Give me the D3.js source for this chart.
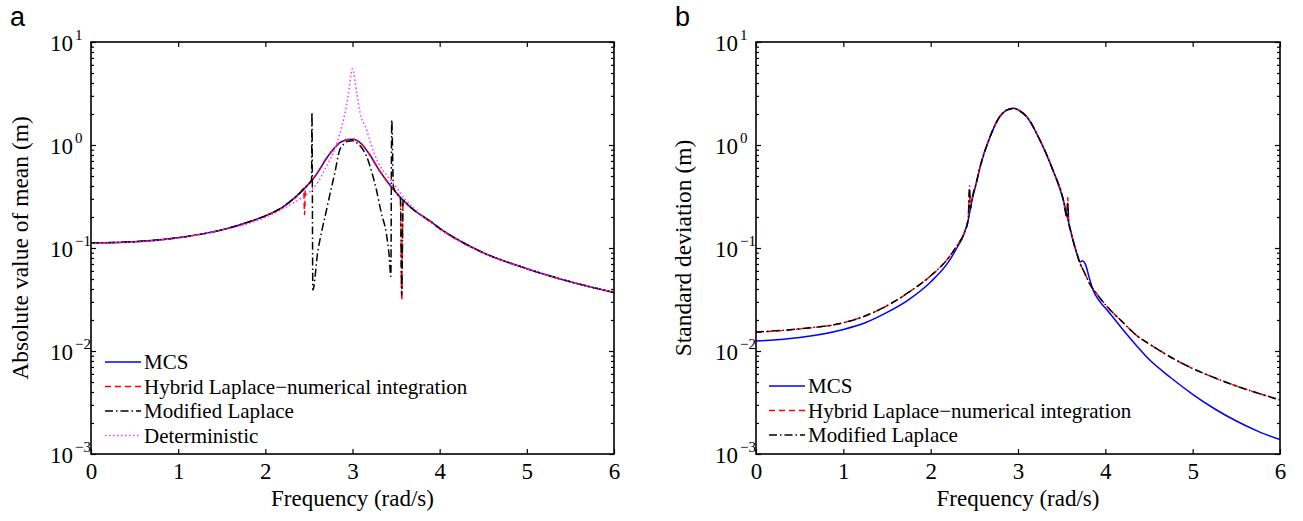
<!DOCTYPE html>
<html>
<head>
<meta charset="UTF-8">
<title>Frequency response</title>
<script src="https://d3js.org/d3.v7.min.js"></script>
<style>
  body { margin: 0; background: #fff; }
  .axis path { display: none; }
  .axis line { stroke: #000; stroke-width: 1.2px; }
</style>
</head>
<body>
<svg width="1303" height="521"></svg>
<script>
// tick labels / categories
const freqTicks = [0, 1, 2, 3, 4, 5, 6];
const decades = [1e-3, 1e-2, 1e-1, 1, 10];
const seriesNames = ["MCS", "Hybrid Laplace\u2212numerical integration", "Modified Laplace", "Deterministic"];

// panel a : absolute value of mean  [frequency, value]
const meanMCS = [[0,0.112],[0.5,0.115],[1,0.126],[1.5,0.15],[1.8,0.178],[2,0.205],[2.2,0.25],[2.4,0.345],[2.5,0.42],[2.6,0.54],[2.7,0.74],[2.8,0.95],[2.85,1.05],[2.9,1.1],[2.95,1.13],[3,1.14],[3.05,1.11],[3.1,1.03],[3.2,0.8],[3.3,0.58],[3.4,0.44],[3.5,0.345],[3.6,0.28],[3.7,0.235],[3.8,0.205],[3.9,0.18],[4,0.155],[4.25,0.115],[4.5,0.09],[5,0.063],[5.5,0.047],[6,0.037]];
const meanHybrid = [[0,0.112],[0.5,0.115],[1,0.126],[1.5,0.15],[1.8,0.178],[2,0.205],[2.2,0.25],[2.4,0.345],[2.44,0.38],[2.45,0.21],[2.46,0.39],[2.5,0.42],[2.6,0.54],[2.7,0.74],[2.8,0.95],[2.85,1.05],[2.9,1.1],[2.95,1.13],[3,1.14],[3.05,1.11],[3.1,1.03],[3.2,0.8],[3.3,0.58],[3.4,0.44],[3.5,0.345],[3.55,0.3],[3.565,0.031],[3.58,0.29],[3.6,0.28],[3.7,0.235],[3.8,0.205],[3.9,0.18],[4,0.155],[4.25,0.115],[4.5,0.09],[5,0.063],[5.5,0.047],[6,0.037]];
const meanModified = [[0,0.112],[0.5,0.115],[1,0.126],[1.5,0.15],[1.8,0.178],[2,0.205],[2.2,0.25],[2.4,0.345],[2.5,0.42],[2.53,0.46],[2.535,2.08],[2.545,0.039],[2.6,0.09],[2.65,0.15],[2.7,0.23],[2.74,0.33],[2.8,0.55],[2.85,0.88],[2.9,1.02],[2.95,1.09],[3,1.1],[3.05,1.05],[3.1,0.95],[3.16,0.78],[3.22,0.55],[3.27,0.38],[3.33,0.22],[3.39,0.135],[3.42,0.085],[3.44,0.053],[3.45,1.75],[3.47,0.39],[3.5,0.345],[3.55,0.3],[3.565,0.035],[3.58,0.29],[3.6,0.28],[3.7,0.235],[3.8,0.205],[3.9,0.18],[4,0.155],[4.25,0.115],[4.5,0.09],[5,0.063],[5.5,0.047],[6,0.037]];
const meanDeterministic = [[0,0.111],[0.5,0.114],[1,0.125],[1.5,0.148],[1.8,0.172],[2,0.198],[2.2,0.24],[2.4,0.3],[2.5,0.345],[2.6,0.43],[2.7,0.62],[2.8,0.92],[2.85,1.25],[2.9,1.8],[2.95,3.0],[3,5.5],[3.05,3.1],[3.1,1.85],[3.15,1.5],[3.2,1.1],[3.3,0.66],[3.4,0.5],[3.5,0.39],[3.6,0.3],[3.7,0.245],[3.8,0.205],[4,0.152],[4.5,0.089],[5,0.063],[5.5,0.047],[6,0.037]];

// panel b : standard deviation  [frequency, value]
const stdMCS = [[0,0.0125],[0.5,0.0135],[1,0.0162],[1.25,0.0188],[1.5,0.0237],[1.75,0.0316],[2,0.0468],[2.2,0.0724],[2.3,0.1],[2.38,0.135],[2.43,0.187],[2.47,0.28],[2.52,0.42],[2.57,0.63],[2.68,1.2],[2.79,1.88],[2.87,2.18],[2.95,2.28],[3.02,2.15],[3.1,1.88],[3.25,1.12],[3.4,0.57],[3.52,0.29],[3.6,0.15],[3.68,0.085],[3.71,0.073],[3.74,0.075],[3.77,0.07],[3.82,0.05],[3.86,0.039],[3.94,0.03],[4.02,0.025],[4.2,0.0162],[4.36,0.0112],[4.5,0.0083],[4.75,0.0055],[5,0.0038],[5.25,0.00275],[5.5,0.00209],[5.75,0.00166],[6,0.00138]];
const stdHybrid = [[0,0.0152],[0.5,0.0164],[1,0.0188],[1.25,0.0219],[1.5,0.0275],[1.75,0.0372],[2,0.0537],[2.2,0.0794],[2.3,0.105],[2.38,0.138],[2.43,0.19],[2.445,0.36],[2.455,0.24],[2.47,0.29],[2.52,0.42],[2.57,0.63],[2.68,1.2],[2.79,1.88],[2.87,2.18],[2.95,2.26],[3.02,2.14],[3.1,1.88],[3.25,1.12],[3.4,0.57],[3.52,0.29],[3.56,0.2],[3.57,0.31],[3.58,0.18],[3.6,0.15],[3.68,0.085],[3.71,0.071],[3.76,0.058],[3.82,0.045],[3.9,0.036],[4.02,0.027],[4.2,0.019],[4.36,0.0141],[4.5,0.01175],[4.75,0.0087],[5,0.00676],[5.25,0.0055],[5.5,0.00457],[5.75,0.00389],[6,0.00334]];
const stdModified = [[0,0.0153],[0.5,0.0164],[1,0.0188],[1.25,0.0219],[1.5,0.0275],[1.75,0.0372],[2,0.0537],[2.2,0.0794],[2.3,0.105],[2.38,0.138],[2.43,0.19],[2.445,0.4],[2.455,0.24],[2.47,0.29],[2.52,0.42],[2.57,0.63],[2.68,1.2],[2.79,1.88],[2.87,2.18],[2.95,2.26],[3.02,2.14],[3.1,1.88],[3.25,1.12],[3.4,0.57],[3.52,0.29],[3.56,0.2],[3.57,0.28],[3.58,0.18],[3.6,0.15],[3.68,0.085],[3.71,0.071],[3.76,0.058],[3.82,0.045],[3.9,0.036],[4.02,0.027],[4.2,0.019],[4.36,0.0141],[4.5,0.01175],[4.75,0.0087],[5,0.00676],[5.25,0.0055],[5.5,0.00457],[5.75,0.00389],[6,0.00334]];

const styles = [
  { color: "#0000ff", dash: null },
  { color: "#ff0000", dash: "6,4" },
  { color: "#000000", dash: "8,3,1.5,3" },
  { color: "#ff33ff", dash: "1.5,2.5" }
];

const serif = "'Liberation Serif', 'Times New Roman', Times, serif";

const panels = [
  { letter: "a", left: 91, right: 614, ylabel: "Absolute value of mean (m)", ylabelX: 28,
    series: [meanMCS, meanHybrid, meanModified, meanDeterministic],
    legendX: 105, legendY: 362 },
  { letter: "b", left: 756, right: 1280, ylabel: "Standard deviation (m)", ylabelX: 691,
    series: [stdMCS, stdHybrid, stdModified],
    legendX: 769, legendY: 386 }
];

const plotTop = 42, plotBottom = 454;
const svg = d3.select("svg");

const minors = [];
for (let e = -3; e < 1; e++) {
  for (let k = 2; k <= 9; k++) minors.push(k * Math.pow(10, e));
}

panels.forEach((p, pi) => {
  const x = d3.scaleLinear().domain([0, 6]).range([p.left, p.right]);
  const y = d3.scaleLog().domain([1e-3, 10]).range([plotBottom, plotTop]);

  const g = svg.append("g");

  g.append("clipPath").attr("id", "clip" + pi)
    .append("rect")
    .attr("x", p.left).attr("y", plotTop)
    .attr("width", p.right - p.left).attr("height", plotBottom - plotTop);

  // curves
  const line = d3.line()
    .x(d => x(d[0]))
    .y(d => y(d[1]))
    .curve(d3.curveMonotoneX);

  p.series.forEach((s, i) => {
    g.append("path")
      .datum(s)
      .attr("clip-path", "url(#clip" + pi + ")")
      .attr("fill", "none")
      .attr("stroke", styles[i].color)
      .attr("stroke-width", 1.5)
      .attr("stroke-dasharray", styles[i].dash)
      .attr("d", line);
  });

  // x axes (inward ticks)
  const xb = g.append("g").attr("class", "axis")
    .attr("transform", `translate(0,${plotBottom})`)
    .call(d3.axisBottom(x).tickValues(freqTicks).tickSize(-5).tickPadding(9).tickFormat(d3.format("d")));
  xb.selectAll("text")
    .attr("font-family", serif)
    .attr("font-size", 23)
    .attr("fill", "#000");
  g.append("g").attr("class", "axis")
    .attr("transform", `translate(0,${plotTop})`)
    .call(d3.axisTop(x).tickValues(freqTicks).tickSize(-5).tickFormat(""));

  // y axes
  const yl = g.append("g").attr("class", "axis")
    .attr("transform", `translate(${p.left},0)`)
    .call(d3.axisLeft(y).tickValues(decades).tickSize(-5).tickFormat(""));
  g.append("g").attr("class", "axis")
    .attr("transform", `translate(${p.left},0)`)
    .call(d3.axisLeft(y).tickValues(minors).tickSize(-3).tickFormat(""));
  g.append("g").attr("class", "axis")
    .attr("transform", `translate(${p.right},0)`)
    .call(d3.axisRight(y).tickValues(decades).tickSize(-5).tickFormat(""));
  g.append("g").attr("class", "axis")
    .attr("transform", `translate(${p.right},0)`)
    .call(d3.axisRight(y).tickValues(minors).tickSize(-3).tickFormat(""));

  yl.selectAll(".tick").each(function(d) {
    const t = d3.select(this);
    const ex = Math.round(Math.log10(d));
    t.append("text")
      .attr("x", -18).attr("y", 8)
      .attr("text-anchor", "end")
      .attr("font-family", serif)
      .attr("font-size", 23)
      .attr("fill", "#000")
      .text("10");
    t.append("text")
      .attr("x", -16).attr("y", -3)
      .attr("text-anchor", "start")
      .attr("font-family", serif)
      .attr("font-size", 15)
      .attr("fill", "#000")
      .text(ex < 0 ? "\u2212" + (-ex) : ex);
  });

  // frame
  g.append("rect")
    .attr("x", p.left).attr("y", plotTop)
    .attr("width", p.right - p.left).attr("height", plotBottom - plotTop)
    .attr("fill", "none").attr("stroke", "#000").attr("stroke-width", 1.6);

  // axis labels
  g.append("text")
    .attr("x", (p.left + p.right) / 2).attr("y", 506)
    .attr("text-anchor", "middle")
    .attr("font-family", serif)
    .attr("font-size", 23)
    .text("Frequency (rad/s)");
  g.append("text")
    .attr("transform", `translate(${p.ylabelX},${(plotTop + plotBottom) / 2}) rotate(-90)`)
    .attr("text-anchor", "middle")
    .attr("font-family", serif)
    .attr("font-size", 23.5)
    .text(p.ylabel);

  // panel letter
  g.append("text")
    .attr("x", p.left - 81).attr("y", 26)
    .attr("font-family", "'Liberation Sans', Arial, sans-serif")
    .attr("font-size", 27)
    .text(p.letter);

  // legend
  const lg = g.append("g").attr("transform", `translate(${p.legendX},${p.legendY})`);
  p.series.forEach((s, i) => {
    const row = lg.append("g").attr("transform", `translate(0,${i * 24.5})`);
    row.append("line")
      .attr("x1", 0).attr("x2", 36).attr("y1", 0).attr("y2", 0)
      .attr("stroke", styles[i].color)
      .attr("stroke-width", 1.5)
      .attr("stroke-dasharray", styles[i].dash);
    row.append("text")
      .attr("x", 39).attr("y", 7)
      .attr("font-family", serif)
      .attr("font-size", 21)
      .text(seriesNames[i]);
  });
});
</script>
</body>
</html>
